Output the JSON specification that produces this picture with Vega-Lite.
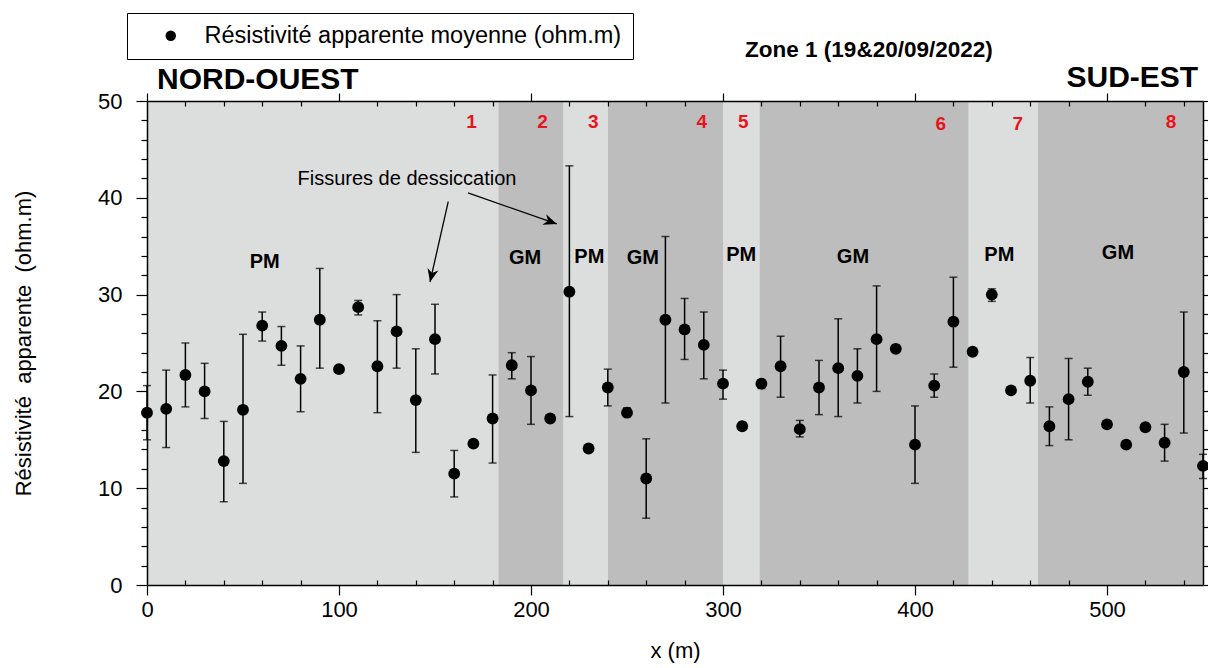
{
  "$schema": "https://vega.github.io/schema/vega-lite/v6.json",
  "width": 1056,
  "height": 484,
  "autosize": "none",
  "padding": {"left": 147, "top": 101, "right": 5, "bottom": 83},
  "background": "white",
  "config": {
    "view": {"stroke": null},
    "font": "Liberation Sans",
    "text": {"font": "Liberation Sans", "color": "black"}
  },
  "datasets": {
    "bandes": [
      {"debut": 0, "fin": 183, "ton": "clair"},
      {"debut": 183, "fin": 217, "ton": "fonce"},
      {"debut": 217, "fin": 240, "ton": "clair"},
      {"debut": 240, "fin": 300, "ton": "fonce"},
      {"debut": 300, "fin": 319, "ton": "clair"},
      {"debut": 319, "fin": 428, "ton": "fonce"},
      {"debut": 428, "fin": 464, "ton": "clair"},
      {"debut": 464, "fin": 550, "ton": "fonce"}
    ],
    "mesures": [
      {"x": 0, "r": 17.8, "lo": 15.0, "hi": 20.6},
      {"x": 10, "r": 18.2, "lo": 14.2, "hi": 22.2},
      {"x": 20, "r": 21.7, "lo": 18.4, "hi": 25.0},
      {"x": 30, "r": 20.0, "lo": 17.2, "hi": 22.9},
      {"x": 40, "r": 12.8, "lo": 8.6, "hi": 16.9},
      {"x": 50, "r": 18.1, "lo": 10.5, "hi": 25.9},
      {"x": 60, "r": 26.8, "lo": 25.2, "hi": 28.2},
      {"x": 70, "r": 24.7, "lo": 22.7, "hi": 26.7},
      {"x": 80, "r": 21.3, "lo": 17.9, "hi": 24.7},
      {"x": 90, "r": 27.4, "lo": 22.4, "hi": 32.7},
      {"x": 100, "r": 22.3, "lo": null, "hi": null},
      {"x": 110, "r": 28.7, "lo": 27.9, "hi": 29.4},
      {"x": 120, "r": 22.6, "lo": 17.8, "hi": 27.3},
      {"x": 130, "r": 26.2, "lo": 22.4, "hi": 30.0},
      {"x": 140, "r": 19.1, "lo": 13.7, "hi": 24.4},
      {"x": 150, "r": 25.4, "lo": 21.8, "hi": 29.0},
      {"x": 160, "r": 11.5, "lo": 9.1, "hi": 13.9},
      {"x": 170, "r": 14.6, "lo": null, "hi": null},
      {"x": 180, "r": 17.2, "lo": 12.6, "hi": 21.7},
      {"x": 190, "r": 22.7, "lo": 21.3, "hi": 24.0},
      {"x": 200, "r": 20.1, "lo": 16.6, "hi": 23.6},
      {"x": 210, "r": 17.2, "lo": null, "hi": null},
      {"x": 220, "r": 30.3, "lo": 17.4, "hi": 43.3},
      {"x": 230, "r": 14.1, "lo": null, "hi": null},
      {"x": 240, "r": 20.4, "lo": 18.5, "hi": 22.3},
      {"x": 250, "r": 17.8, "lo": 17.4, "hi": 18.3},
      {"x": 260, "r": 11.0, "lo": 6.9, "hi": 15.1},
      {"x": 270, "r": 27.4, "lo": 18.8, "hi": 36.0},
      {"x": 280, "r": 26.4, "lo": 23.3, "hi": 29.6},
      {"x": 290, "r": 24.8, "lo": 21.3, "hi": 28.2},
      {"x": 300, "r": 20.8, "lo": 19.2, "hi": 22.2},
      {"x": 310, "r": 16.4, "lo": 16.0, "hi": 16.8},
      {"x": 320, "r": 20.8, "lo": 20.3, "hi": 21.2},
      {"x": 330, "r": 22.6, "lo": 19.4, "hi": 25.7},
      {"x": 340, "r": 16.1, "lo": 15.3, "hi": 17.0},
      {"x": 350, "r": 20.4, "lo": 17.6, "hi": 23.2},
      {"x": 360, "r": 22.4, "lo": 17.4, "hi": 27.5},
      {"x": 370, "r": 21.6, "lo": 18.8, "hi": 24.4},
      {"x": 380, "r": 25.4, "lo": 20.0, "hi": 30.9},
      {"x": 390, "r": 24.4, "lo": null, "hi": null},
      {"x": 400, "r": 14.5, "lo": 10.5, "hi": 18.5},
      {"x": 410, "r": 20.6, "lo": 19.4, "hi": 21.8},
      {"x": 420, "r": 27.2, "lo": 22.5, "hi": 31.8},
      {"x": 430, "r": 24.1, "lo": null, "hi": null},
      {"x": 440, "r": 30.0, "lo": 29.3, "hi": 30.6},
      {"x": 450, "r": 20.1, "lo": null, "hi": null},
      {"x": 460, "r": 21.1, "lo": 18.8, "hi": 23.5},
      {"x": 470, "r": 16.4, "lo": 14.4, "hi": 18.4},
      {"x": 480, "r": 19.2, "lo": 15.0, "hi": 23.4},
      {"x": 490, "r": 21.0, "lo": 19.6, "hi": 22.4},
      {"x": 500, "r": 16.6, "lo": null, "hi": null},
      {"x": 510, "r": 14.5, "lo": null, "hi": null},
      {"x": 520, "r": 16.3, "lo": null, "hi": null},
      {"x": 530, "r": 14.7, "lo": 12.8, "hi": 16.6},
      {"x": 540, "r": 22.0, "lo": 15.7, "hi": 28.2},
      {"x": 550, "r": 12.3, "lo": 11.0, "hi": 13.5}
    ],
    "zones": [
      {"x": 61.3, "y": 33.4, "t": "PM"},
      {"x": 196.9, "y": 33.75, "t": "GM"},
      {"x": 230.4, "y": 33.9, "t": "PM"},
      {"x": 258.2, "y": 33.75, "t": "GM"},
      {"x": 309.5, "y": 34.1, "t": "PM"},
      {"x": 367.7, "y": 33.85, "t": "GM"},
      {"x": 443.9, "y": 34.1, "t": "PM"},
      {"x": 505.7, "y": 34.3, "t": "GM"}
    ],
    "numeros": [
      {"x": 169, "y": 47.8, "t": "1"},
      {"x": 206, "y": 47.8, "t": "2"},
      {"x": 232.5, "y": 47.8, "t": "3"},
      {"x": 289, "y": 47.8, "t": "4"},
      {"x": 310.6, "y": 47.8, "t": "5"},
      {"x": 413.4, "y": 47.6, "t": "6"},
      {"x": 453.5, "y": 47.6, "t": "7"},
      {"x": 533.3, "y": 47.8, "t": "8"}
    ],
    "fleches": [
      {"id": "a", "x0": 156.9, "y0": 39.6, "x1": 147.4, "y1": 31.3},
      {"id": "b", "x0": 167.2, "y0": 40.5, "x1": 213.4, "y1": 37.3}
    ],
    "textes": [
      {"x": 135.4, "y": 41.9, "t": "Fissures de dessiccation", "k": "note"},
      {"x": 376, "y": 55.3, "t": "Zone 1 (19&20/09/2022)", "k": "titre"},
      {"x": 5.2, "y": 52.2, "t": "NORD-OUEST", "k": "gauche"},
      {"x": 547.5, "y": 52.4, "t": "SUD-EST", "k": "droite"}
    ]
  },
  "layer": [
    {
      "data": {"name": "bandes"},
      "mark": {"type": "rect"},
      "encoding": {
        "x": {
          "field": "debut", "type": "quantitative",
          "scale": {"domain": [0, 550], "nice": false, "zero": false},
          "axis": {
            "orient": "bottom",
            "zindex": 1,
            "values": [0,20,40,60,80,100,120,140,160,180,200,220,240,260,280,300,320,340,360,380,400,420,440,460,480,500,520,540],
            "labelExpr": "datum.value % 100 === 0 ? datum.label : ''",
            "labelOverlap": false,
            "labelFlush": false,
            "tickSize": {"condition": {"test": "datum.value % 100 === 0", "value": 10}, "value": -5},
            "tickColor": "black",
            "tickWidth": 1.2,
            "domainColor": "black",
            "domainWidth": 1.5,
            "labelFontSize": 22,
            "labelColor": "black",
            "labelPadding": 4,
            "grid": false,
            "title": "x (m)",
            "titleFontSize": 22,
            "titleFontWeight": "normal",
            "titleColor": "black",
            "titlePadding": 20
          }
        },
        "x2": {"field": "fin"},
        "y": {
          "datum": 0, "type": "quantitative",
          "scale": {"domain": [0, 50], "nice": false, "zero": false},
          "axis": {
            "orient": "left",
            "zindex": 1,
            "values": [0,2,4,6,8,10,12,14,16,18,20,22,24,26,28,30,32,34,36,38,40,42,44,46,48,50],
            "labelExpr": "datum.value % 10 === 0 ? datum.label : ''",
            "labelOverlap": false,
            "labelFlush": false,
            "tickSize": {"condition": {"test": "datum.value % 10 === 0", "value": 11}, "value": 6},
            "tickColor": "black",
            "tickWidth": 1.2,
            "domainColor": "black",
            "domainWidth": 1.5,
            "labelFontSize": 22,
            "labelColor": "black",
            "labelPadding": 14,
            "grid": false,
            "title": "Résistivité\u00a0 apparente\u00a0 (ohm.m)",
            "titleFontSize": 22,
            "titleFontWeight": "normal",
            "titleColor": "black",
            "titlePadding": 62
          }
        },
        "y2": {"datum": 50},
        "color": {
          "field": "ton", "type": "nominal",
          "scale": {"domain": ["clair", "fonce"], "range": ["#dcdddd", "#bdbdbd"]},
          "legend": null
        }
      }
    },
    {
      "data": {"name": "mesures"},
      "mark": {"type": "errorbar", "ticks": {"size": 8, "color": "black"}, "thickness": 1.5, "color": "black"},
      "encoding": {
        "x": {"field": "x", "type": "quantitative", "axis": null},
        "y": {"field": "lo", "type": "quantitative", "axis": null},
        "y2": {"field": "hi"}
      }
    },
    {
      "data": {"name": "mesures"},
      "mark": {"type": "point", "filled": true, "size": 140, "opacity": 1, "shape": "circle"},
      "encoding": {
        "x": {
          "field": "x", "type": "quantitative",
          "scale": {"domain": [0, 550], "nice": false, "zero": false},
          "axis": {
            "orient": "top",
            "zindex": 1,
            "values": [0,20,40,60,80,100,120,140,160,180,200,220,240,260,280,300,320,340,360,380,400,420,440,460,480,500,520,540],
            "labels": false,
            "tickSize": {"condition": {"test": "datum.value % 100 === 0", "value": 8}, "value": -5},
            "tickColor": "black",
            "tickWidth": 1.2,
            "domainColor": "black",
            "domainWidth": 1.5,
            "grid": false,
            "title": null
          }
        },
        "y": {
          "field": "r", "type": "quantitative",
          "scale": {"domain": [0, 50], "nice": false, "zero": false},
          "axis": {
            "orient": "right",
            "zindex": 1,
            "values": [0,2,4,6,8,10,12,14,16,18,20,22,24,26,28,30,32,34,36,38,40,42,44,46,48,50],
            "labels": false,
            "tickSize": 5,
            "tickColor": "black",
            "tickWidth": 1.2,
            "domainColor": "black",
            "domainWidth": 1.5,
            "grid": false,
            "title": null
          }
        },
        "fill": {
          "datum": "Résistivité apparente moyenne (ohm.m)",
          "type": "nominal",
          "scale": {"range": ["black"]},
          "legend": {
            "orient": "none",
            "legendX": -20,
            "legendY": -88,
            "title": null,
            "padding": 11,
            "strokeColor": "black",
            "fillColor": "white",
            "symbolType": "circle",
            "symbolSize": 110,
            "symbolStrokeWidth": 0,
            "symbolOffset": 21,
            "labelOffset": 22,
            "labelFontSize": 23.5,
            "labelColor": "black",
            "labelLimit": 0,
            "encode": {"legend": {"update": {"strokeWidth": {"value": 2}}}}
          }
        }
      }
    },
    {
      "data": {"name": "fleches"},
      "mark": {"type": "rule", "color": "black", "strokeWidth": 1.3},
      "encoding": {
        "x": {"field": "x0", "type": "quantitative", "axis": null},
        "y": {"field": "y0", "type": "quantitative", "axis": null},
        "x2": {"field": "x1"},
        "y2": {"field": "y1"}
      }
    },
    {
      "data": {"name": "fleches"},
      "transform": [{"filter": "datum.id === 'a'"}],
      "mark": {"type": "point", "filled": true, "opacity": 1, "color": "black", "size": 700, "angle": 193, "shape": "M0,0L-0.42,1L0,0.7L0.42,1Z"},
      "encoding": {
        "x": {"field": "x1", "type": "quantitative", "axis": null},
        "y": {"field": "y1", "type": "quantitative", "axis": null}
      }
    },
    {
      "data": {"name": "fleches"},
      "transform": [{"filter": "datum.id === 'b'"}],
      "mark": {"type": "point", "filled": true, "opacity": 1, "color": "black", "size": 700, "angle": 110, "shape": "M0,0L-0.42,1L0,0.7L0.42,1Z"},
      "encoding": {
        "x": {"field": "x1", "type": "quantitative", "axis": null},
        "y": {"field": "y1", "type": "quantitative", "axis": null}
      }
    },
    {
      "data": {"name": "zones"},
      "mark": {"type": "text", "fontSize": 20, "fontWeight": "bold", "align": "center", "baseline": "middle", "color": "black"},
      "encoding": {
        "x": {"field": "x", "type": "quantitative", "axis": null},
        "y": {"field": "y", "type": "quantitative", "axis": null},
        "text": {"field": "t"}
      }
    },
    {
      "data": {"name": "numeros"},
      "mark": {"type": "text", "fontSize": 19, "fontWeight": "bold", "align": "center", "baseline": "middle", "color": "#e8141b"},
      "encoding": {
        "x": {"field": "x", "type": "quantitative", "axis": null},
        "y": {"field": "y", "type": "quantitative", "axis": null},
        "text": {"field": "t"}
      }
    },
    {
      "data": {"name": "textes"},
      "transform": [{"filter": "datum.k === 'note'"}],
      "mark": {"type": "text", "fontSize": 20, "align": "center", "baseline": "middle", "color": "black"},
      "encoding": {
        "x": {"field": "x", "type": "quantitative", "axis": null},
        "y": {"field": "y", "type": "quantitative", "axis": null},
        "text": {"field": "t"}
      }
    },
    {
      "data": {"name": "textes"},
      "transform": [{"filter": "datum.k === 'titre'"}],
      "mark": {"type": "text", "fontSize": 22.5, "fontWeight": "bold", "align": "center", "baseline": "middle", "color": "black"},
      "encoding": {
        "x": {"field": "x", "type": "quantitative", "axis": null},
        "y": {"field": "y", "type": "quantitative", "axis": null},
        "text": {"field": "t"}
      }
    },
    {
      "data": {"name": "textes"},
      "transform": [{"filter": "datum.k === 'gauche'"}],
      "mark": {"type": "text", "fontSize": 30, "fontWeight": "bold", "align": "left", "baseline": "middle", "color": "black"},
      "encoding": {
        "x": {"field": "x", "type": "quantitative", "axis": null},
        "y": {"field": "y", "type": "quantitative", "axis": null},
        "text": {"field": "t"}
      }
    },
    {
      "data": {"name": "textes"},
      "transform": [{"filter": "datum.k === 'droite'"}],
      "mark": {"type": "text", "fontSize": 30, "fontWeight": "bold", "align": "right", "baseline": "middle", "color": "black"},
      "encoding": {
        "x": {"field": "x", "type": "quantitative", "axis": null},
        "y": {"field": "y", "type": "quantitative", "axis": null},
        "text": {"field": "t"}
      }
    }
  ],
  "resolve": {"axis": {"x": "independent", "y": "independent"}}
}
